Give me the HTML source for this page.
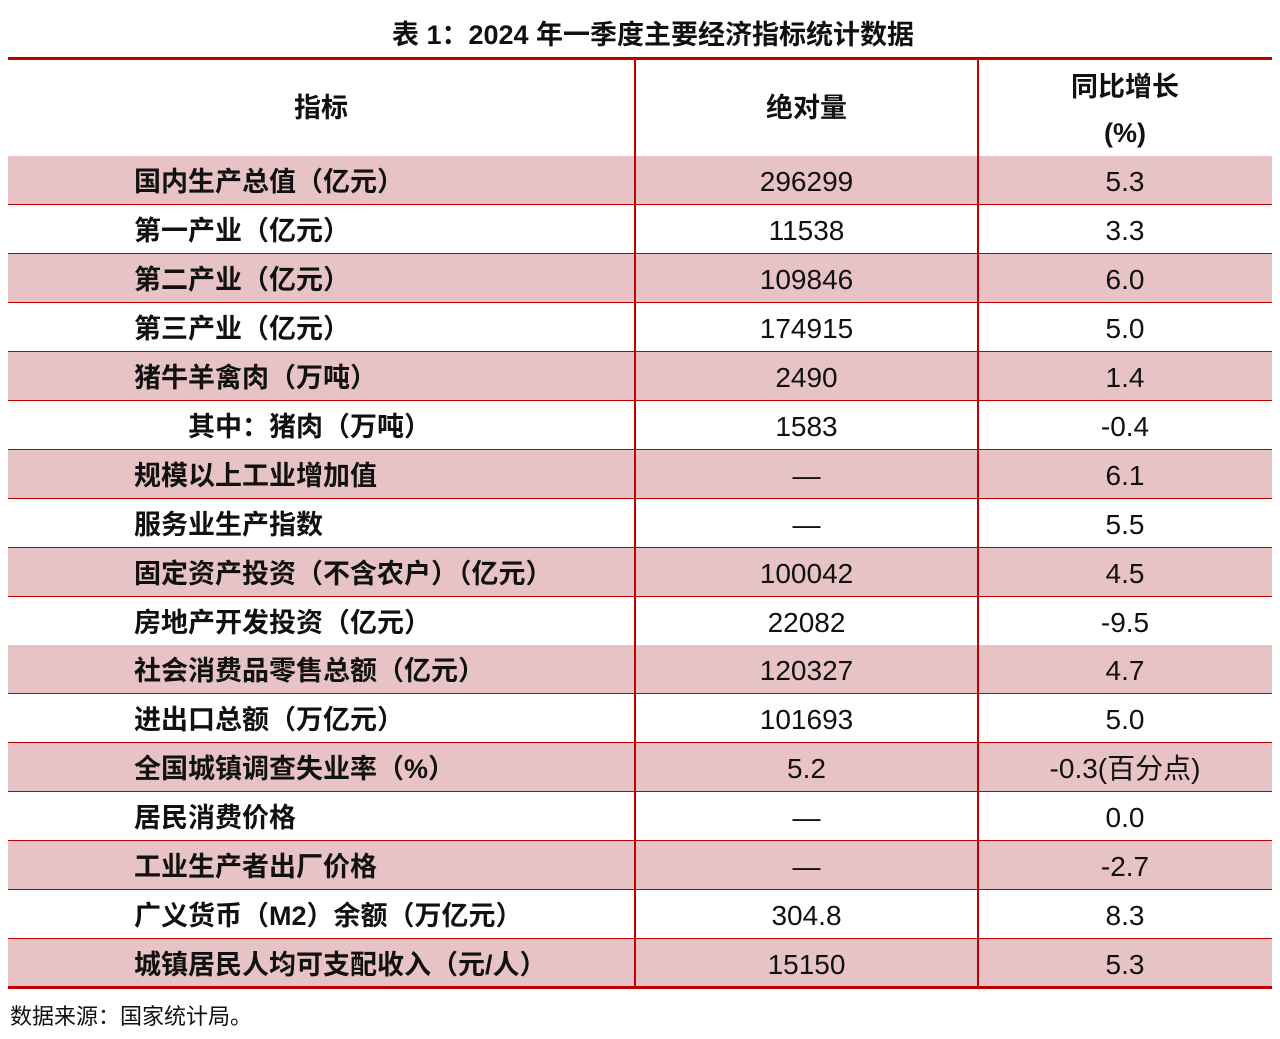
<!DOCTYPE html>
<html><head><meta charset="utf-8"><style>
body{margin:0;width:1280px;height:1039px;background:#fff;position:relative;overflow:hidden;font-family:"Liberation Sans","Noto Sans CJK SC",sans-serif;color:#111}
.a{position:absolute}
.t{left:0;width:1306px;text-align:center;top:17px;font-size:27px;font-weight:bold;line-height:36px}
.row{position:absolute;left:8px;width:1264px;height:49px;border-bottom:1px solid #c00000;box-sizing:border-box}
.p{background:#e7c3c5}
.l{position:absolute;left:126px;top:2px;line-height:48px;font-size:27px;font-weight:bold;white-space:nowrap}
.c2,.c3{position:absolute;top:2px;line-height:48px;font-size:28px;text-align:center}
.c2{left:627px;width:343px}
.c3{left:970px;width:294px}
.v{position:absolute;top:60px;width:2px;height:928px;background:#c00000}
</style></head><body>
<div class="a t">表 1：2024 年一季度主要经济指标统计数据</div>
<div class="a" style="left:8px;top:57px;width:1264px;height:3px;background:#c00000"></div>
<div class="row" style="top:60px;height:97px">
<div class="l" style="left:286px;line-height:96px;top:0">指标</div>
<div class="c2" style="line-height:96px;font-weight:bold;font-size:27px;top:0">绝对量</div>
<div class="c3" style="line-height:46px;top:4px;font-weight:bold;font-size:27px">同比增长<br>(%)</div>
</div>
<div class="row p" style="top:156px"><div class="l">国内生产总值（亿元）</div><div class="c2">296299</div><div class="c3">5.3</div></div>
<div class="row" style="top:205px"><div class="l">第一产业（亿元）</div><div class="c2">11538</div><div class="c3">3.3</div></div>
<div class="row p" style="top:254px"><div class="l">第二产业（亿元）</div><div class="c2">109846</div><div class="c3">6.0</div></div>
<div class="row" style="top:303px"><div class="l">第三产业（亿元）</div><div class="c2">174915</div><div class="c3">5.0</div></div>
<div class="row p" style="top:352px"><div class="l">猪牛羊禽肉（万吨）</div><div class="c2">2490</div><div class="c3">1.4</div></div>
<div class="row" style="top:401px"><div class="l" style="left:180px">其中：猪肉（万吨）</div><div class="c2">1583</div><div class="c3">-0.4</div></div>
<div class="row p" style="top:450px"><div class="l">规模以上工业增加值</div><div class="c2">—</div><div class="c3">6.1</div></div>
<div class="row" style="top:499px"><div class="l">服务业生产指数</div><div class="c2">—</div><div class="c3">5.5</div></div>
<div class="row p" style="top:548px"><div class="l">固定资产投资（不含农户）（亿元）</div><div class="c2">100042</div><div class="c3">4.5</div></div>
<div class="row" style="top:597px"><div class="l">房地产开发投资（亿元）</div><div class="c2">22082</div><div class="c3">-9.5</div></div>
<div class="row p" style="top:645px"><div class="l">社会消费品零售总额（亿元）</div><div class="c2">120327</div><div class="c3">4.7</div></div>
<div class="row" style="top:694px"><div class="l">进出口总额（万亿元）</div><div class="c2">101693</div><div class="c3">5.0</div></div>
<div class="row p" style="top:743px"><div class="l">全国城镇调查失业率（%）</div><div class="c2">5.2</div><div class="c3">-0.3(百分点)</div></div>
<div class="row" style="top:792px"><div class="l">居民消费价格</div><div class="c2">—</div><div class="c3">0.0</div></div>
<div class="row p" style="top:841px"><div class="l">工业生产者出厂价格</div><div class="c2">—</div><div class="c3">-2.7</div></div>
<div class="row" style="top:890px"><div class="l">广义货币（M2）余额（万亿元）</div><div class="c2">304.8</div><div class="c3">8.3</div></div>
<div class="row p" style="top:939px"><div class="l">城镇居民人均可支配收入（元/人）</div><div class="c2">15150</div><div class="c3">5.3</div></div>
<div class="a" style="left:8px;top:986px;width:1264px;height:3px;background:#c00000"></div>
<div class="v" style="left:634px"></div>
<div class="v" style="left:977px"></div>
<div class="a" style="left:10px;top:1002px;font-size:22px;line-height:30px">数据来源：国家统计局。</div>
</body></html>
